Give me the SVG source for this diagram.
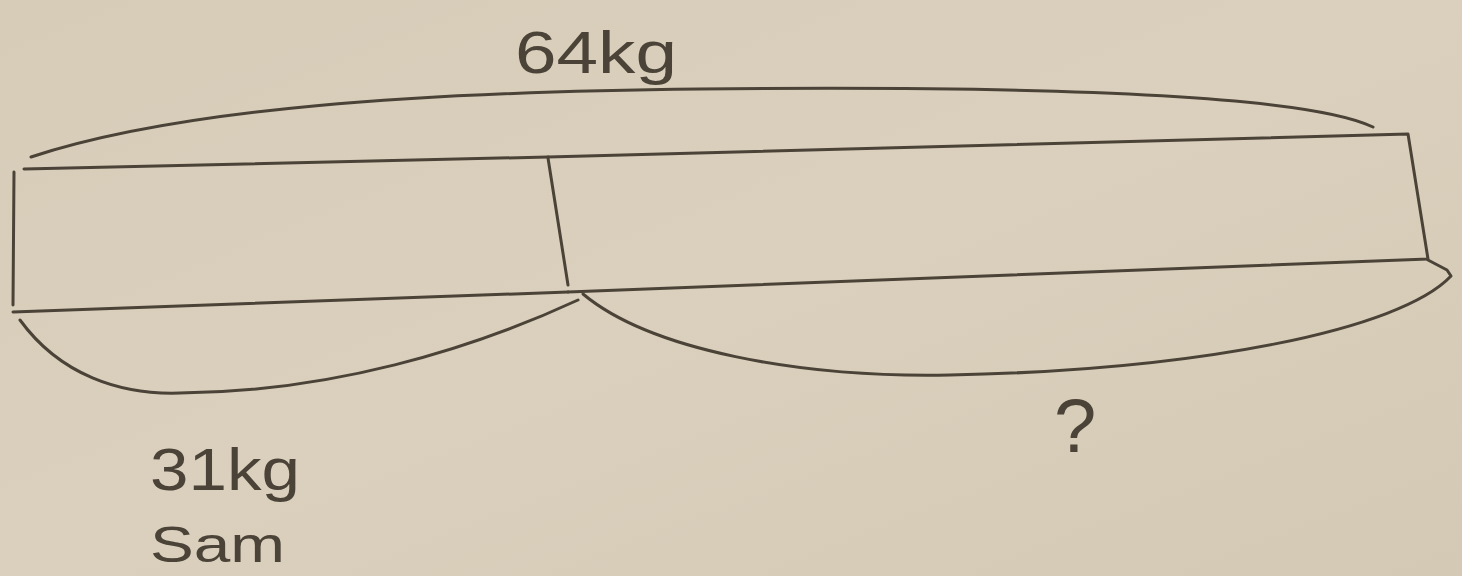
<svg xmlns="http://www.w3.org/2000/svg" width="1462" height="576" viewBox="0 0 1462 576">
<defs>
<linearGradient id="bg" x1="0" y1="0" x2="1" y2="1">
<stop offset="0" stop-color="#d7ccb8"/>
<stop offset="0.5" stop-color="#dbd0bd"/>
<stop offset="1" stop-color="#d4c9b4"/>
</linearGradient>
<style>
.pen{fill:none;stroke:#4b4337;stroke-width:3;stroke-linecap:round;stroke-linejoin:round}
.hand{font-family:"Liberation Sans","DejaVu Sans",sans-serif;fill:#4b4337;font-weight:normal}
</style>
</defs>
<rect x="0" y="0" width="1462" height="576" fill="url(#bg)"/>
<g id="bar-sam">
<path class="pen" d="M24 169 L548 157"/>
<path class="pen" d="M14 172 L13 305"/>
<path class="pen" d="M13 312 L568 292"/>
<path class="pen" d="M548 158 L568 285"/>
</g>
<g id="bar-other">
<path class="pen" d="M548 157 L1408 134 L1428 259 L568 292"/>
</g>
<g id="connectors">
<path id="brace-total" class="pen" d="M31 157 C180 108 420 92 700 89 C1000 86 1300 92 1373 127"/>
<path id="brace-sam" class="pen" d="M20 320 C60 375 120 395 180 393 C330 392 470 350 578 300"/>
<path id="brace-unknown" class="pen" d="M583 294 C650 350 800 378 950 375 C1200 370 1400 330 1451 276 L1447 270 L1428 260"/>
</g>
<g id="label-total">
<text class="hand" x="515" y="73" font-size="60" textLength="162" lengthAdjust="spacingAndGlyphs">64kg</text>
</g>
<g id="label-sam">
<text class="hand" x="150" y="490" font-size="60" textLength="150" lengthAdjust="spacingAndGlyphs">31kg</text>
<text class="hand" x="150" y="562" font-size="50" textLength="135" lengthAdjust="spacingAndGlyphs">Sam</text>
</g>
<g id="label-unknown">
<text class="hand" x="1054" y="452" font-size="76">?</text>
</g>
</svg>
